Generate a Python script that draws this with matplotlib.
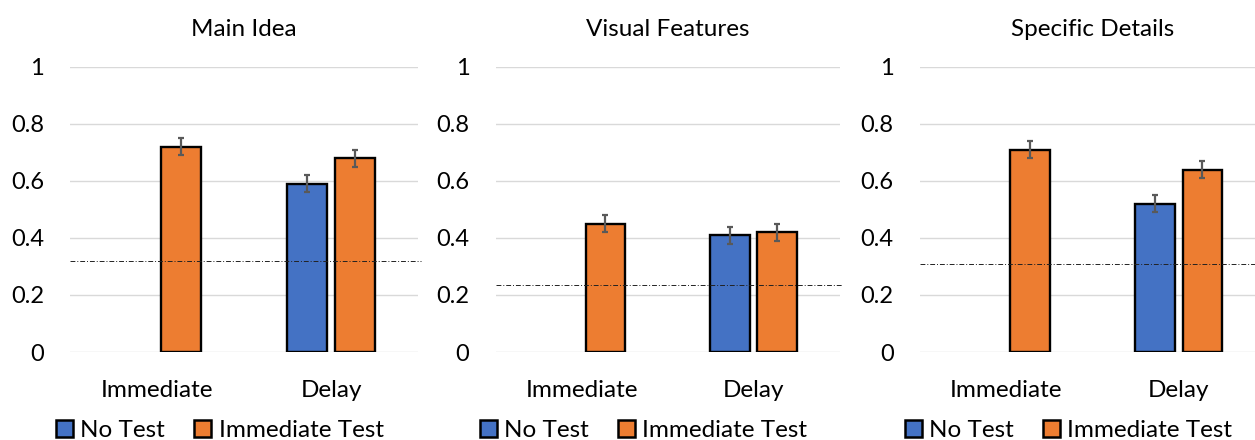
import matplotlib
matplotlib.use("Agg")
import numpy as np
import matplotlib.pyplot as plt
from matplotlib.patches import Patch

plt.rcParams['font.family'] = ['Lato', 'DejaVu Sans']

# data
panels = ["Main Idea", "Visual Features", "Specific Details"]
categories = ["Immediate", "Delay"]
no_test = [[np.nan, 0.59], [np.nan, 0.41], [np.nan, 0.52]]
immediate_test = [[0.72, 0.68], [0.45, 0.42], [0.71, 0.64]]
no_test_err = [[0, 0.03], [0, 0.03], [0, 0.03]]
immediate_test_err = [[0.03, 0.03], [0.03, 0.03], [0.03, 0.03]]
chance = [0.32, 0.235, 0.31]

blue = '#4472c4'
orange = '#ed7d31'

fig = plt.figure(figsize=(12.55, 4.4), dpi=100)
# axes placement [left, bottom, width, height] in figure fractions
boxes = [[0.056, 0.2, 0.277, 0.648],
         [0.395, 0.2, 0.274, 0.648],
         [0.733, 0.2, 0.275, 0.648]]

x = np.arange(len(categories))
w = 0.23
off = 0.1375

for i, name in enumerate(panels):
    ax = fig.add_axes(boxes[i])
    ax.bar(x - off, no_test[i], w, color=blue, edgecolor='black', linewidth=1.7, zorder=3)
    ax.bar(x + off, immediate_test[i], w, color=orange, edgecolor='black', linewidth=1.7, zorder=3)
    ax.errorbar(x - off, no_test[i], yerr=no_test_err[i], fmt='none', ecolor='#595959',
                elinewidth=1.6, capsize=2.5, capthick=1.6, zorder=4)
    ax.errorbar(x + off, immediate_test[i], yerr=immediate_test_err[i], fmt='none', ecolor='#595959',
                elinewidth=1.6, capsize=2.5, capthick=1.6, zorder=4)
    ax.axhline(chance[i], color='#222222', linestyle=(0, (5, 2, 1, 2)), linewidth=0.7, zorder=5,
               clip_on=False, xmax=1.01)

    ax.set_xlim(-0.5, 1.5)
    ax.set_ylim(0, 1)
    ax.set_yticks([0, 0.2, 0.4, 0.6, 0.8, 1])
    ax.set_yticklabels(['0', '0.2', '0.4', '0.6', '0.8', '1'])
    ax.set_xticks(x)
    ax.set_xticklabels(categories)
    ax.tick_params(axis='y', length=0, pad=19, labelsize=17)
    ax.tick_params(axis='x', length=0, pad=20, labelsize=17.5)
    ax.grid(axis='y', color='#d9d9d9', linewidth=1, zorder=0)
    ax.set_axisbelow(True)
    for s in ax.spines.values():
        s.set_visible(False)
    ax.set_title(name, fontsize=17.5, pad=22)

    handles = [Patch(facecolor=blue, edgecolor='black', linewidth=1.8),
               Patch(facecolor=orange, edgecolor='black', linewidth=1.8)]
    ax.legend(handles, ['No Test', 'Immediate Test'], loc='center', bbox_to_anchor=(0.43, -0.275),
              ncol=2, frameon=False, fontsize=17.5, handlelength=0.7, handleheight=0.7,
              handletextpad=0.3, columnspacing=1.2, borderaxespad=0)

plt.savefig('out.png', dpi=100)
